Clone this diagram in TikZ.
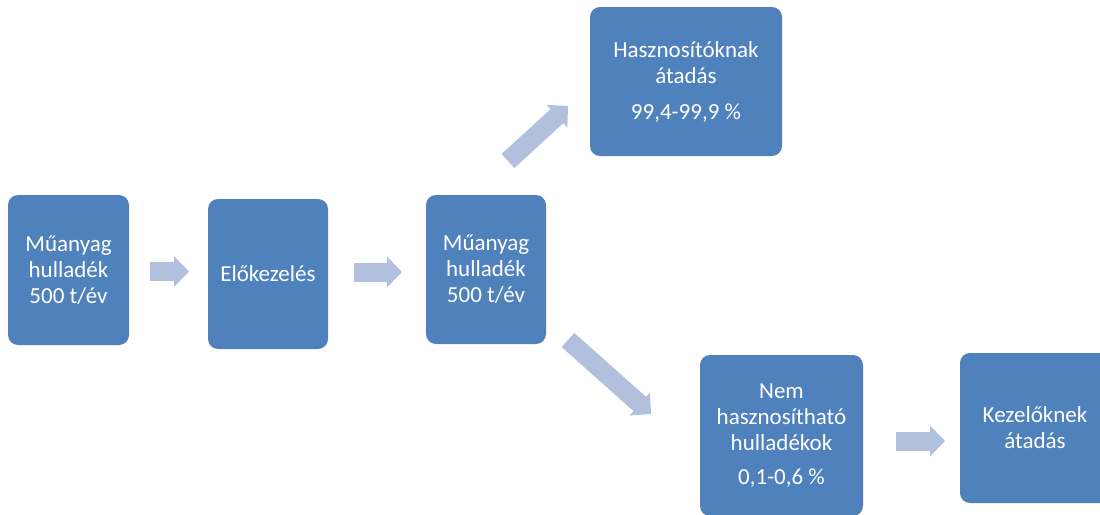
\documentclass[tikz,border=0pt]{standalone}
\usepackage{fontspec}
\setmainfont{Carlito}
\usetikzlibrary{arrows.meta}
\definecolor{boxblue}{RGB}{79,129,189}
\definecolor{arrowblue}{RGB}{177,193,221}
\begin{document}
\begin{tikzpicture}[x=1pt,y=-1pt,
  box/.style={fill=boxblue, rounded corners=10pt, text=white, align=center, inner sep=0pt,
    font=\fontsize{23}{26}\selectfont},
  flow/.style={draw=arrowblue, line width=19pt, -{Triangle[length=15pt 0 0,width=30pt 0 0]}}]
\useasboundingbox (0,0) rectangle (1100,514);
\clip (0,0) rectangle (1100,514);
\node[box, minimum width=121pt, minimum height=150pt] (b1) at (68.5,270) {Műanyag\\hulladék\\500 t/év};
\node[box, minimum width=120pt, minimum height=150pt] (b2) at (268,274) {Előkezelés};
\node[box, minimum width=120pt, minimum height=149pt] (b3) at (486,269.5) {Műanyag\\hulladék\\500 t/év};
\node[box, minimum width=192pt, minimum height=149pt] (b4) at (686,81.5) {Hasznosítóknak\\átadás\\[10pt]99,4-99,9 \%};
\node[box, minimum width=163pt, minimum height=161pt] (b5) at (781.5,435.5) {Nem\\hasznosítható\\hulladékok\\[8pt]0,1-0,6 \%};
\node[box, minimum width=150pt, minimum height=150pt] (b6) at (1035,428) {Kezelőknek\\átadás};
\coordinate (a1s) at (150,271.5);
\coordinate (a1e) at (189,271.5);
\coordinate (a2s) at (354,272);
\coordinate (a2e) at (402,272);
\coordinate (a3s) at (508,161);
\coordinate (a3e) at (568,106);
\coordinate (a4s) at (568,340);
\coordinate (a4e) at (651,414);
\coordinate (a5s) at (896,441);
\coordinate (a5e) at (945,441);
\draw[flow] (a1s) -- (a1e);
\draw[flow] (a2s) -- (a2e);
\draw[flow] (a3s) -- (a3e);
\draw[flow] (a4s) -- (a4e);
\draw[flow] (a5s) -- (a5e);
\end{tikzpicture}
\end{document}
